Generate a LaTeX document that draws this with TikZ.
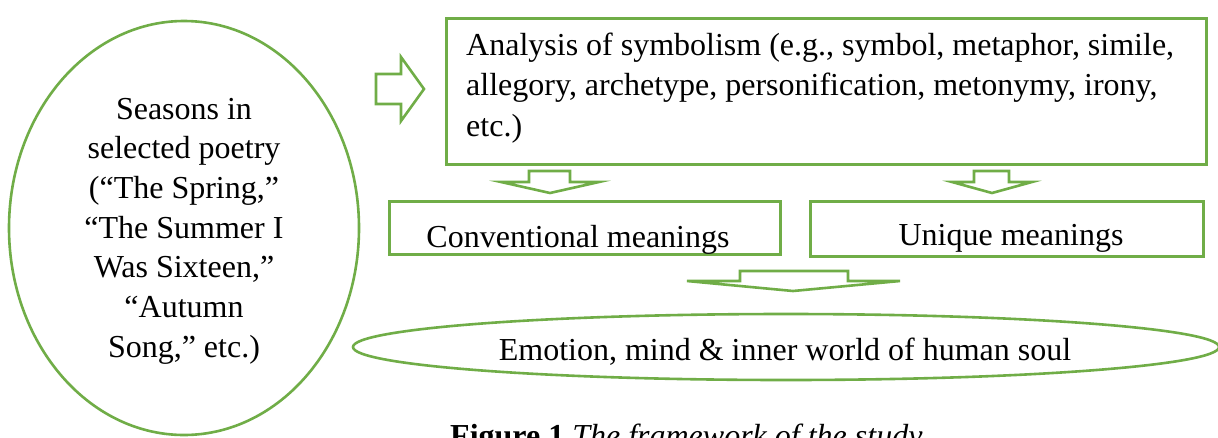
\documentclass[tikz,border=0pt]{standalone}
\usepackage{fontspec}
\setmainfont{Liberation Serif}
\usetikzlibrary{shapes.geometric}
\definecolor{officegreen}{HTML}{70AD47}
\tikzset{
  gline/.style={draw=officegreen, line width=2.6pt, line join=miter},
  gbox/.style={gline, rectangle, inner sep=0pt, anchor=north west},
  gell/.style={gline, ellipse, inner sep=0pt},
  blockarrow/.style={draw=officegreen, line width=2.6pt, line join=miter, fill=white},
  txt/.style={inner sep=0pt, font=\fontsize{32pt}{39.7pt}\selectfont}
}
\begin{document}
\begin{tikzpicture}[x=1pt,y=-1pt]
\useasboundingbox (0,0) rectangle (1218,437);
\fill[white] (0,0) rectangle (1218,437);

% left ellipse
\node[gell, minimum width=350pt, minimum height=414pt] (seasons) at (184,228) {};
\node[txt, anchor=base] (seasonstext) at (184,119)
  {\parbox[t]{330pt}{\centering Seasons in\\ selected poetry\\ (“The Spring,”\\ “The Summer I\\ Was Sixteen,”\\ “Autumn\\ Song,” etc.)}};

% right block arrow
\draw[blockarrow] (376,74) -- (401,74) -- (401,57) -- (424,89) -- (401,121) -- (401,104) -- (376,104) -- cycle;

% top box
\node[gbox, minimum width=760pt, minimum height=146pt] (analysis) at (445,17) {};
\node[txt, anchor=base west, font=\fontsize{32pt}{40.5pt}\selectfont] (analysistext) at (466,55)
  {\parbox[t]{735pt}{\raggedright Analysis of symbolism (e.g., symbol, metaphor, simile,\\ allegory, archetype, personification, metonymy, irony,\\ etc.)}};

% down arrows
\draw[blockarrow] (529,171) -- (570,171) -- (570,182) -- (599,182) -- (550,193) -- (501,182) -- (529,182) -- cycle;
\draw[blockarrow] (974,171) -- (1009,171) -- (1009,182) -- (1032,182) -- (992,193) -- (952,182) -- (974,182) -- cycle;

% meaning boxes
\node[gbox, minimum width=391pt, minimum height=53pt] (conv) at (388,200) {};
\node[txt, anchor=base] (convtext) at (578,247) {Conventional meanings};
\node[gbox, minimum width=393pt, minimum height=55pt] (uniq) at (809,200) {};
\node[txt, anchor=base] (uniqtext) at (1011,245) {Unique meanings};

% wide down arrow
\draw[blockarrow] (740,271) -- (848,271) -- (848,281) -- (900,281) -- (793,291) -- (687,281) -- (740,281) -- cycle;

% bottom ellipse
\node[gell, minimum width=866pt, minimum height=66pt] (emotion) at (786,347) {};
\node[txt, anchor=base] (emotiontext) at (785,360) {Emotion, mind \& inner world of human soul};

% caption (cut off at bottom)
\node[txt, anchor=base west] (caption) at (450,446) {\textbf{Figure 1} \textit{The framework of the study}};
\end{tikzpicture}
\end{document}
